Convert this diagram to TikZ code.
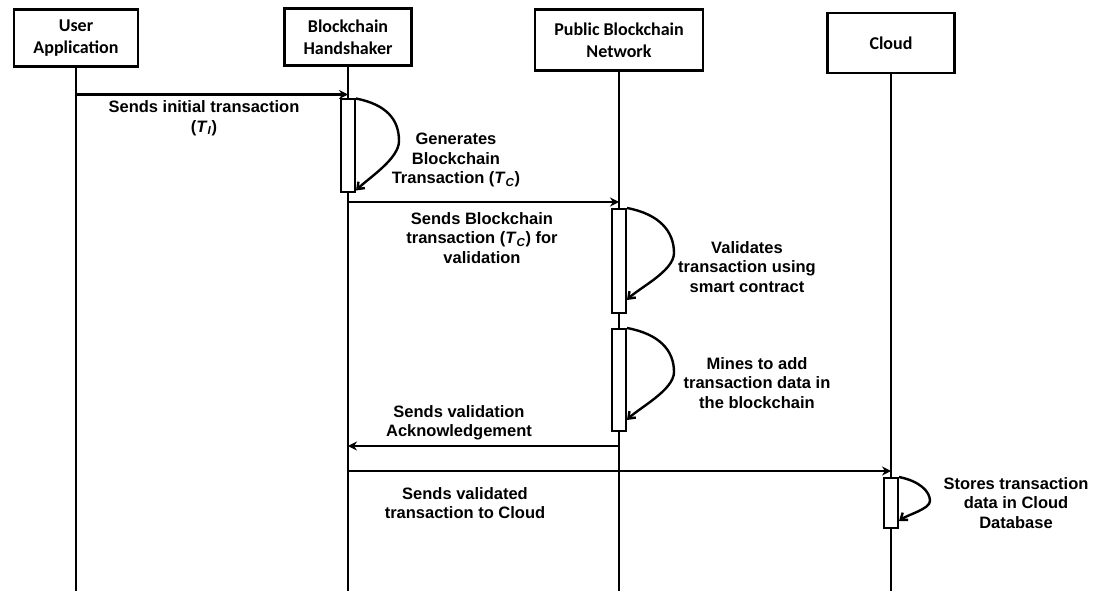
\documentclass[tikz,border=0pt]{standalone}
\usepackage{fontspec}
\setmainfont{Liberation Sans}
\newfontfamily\headfont{Carlito}
\usetikzlibrary{arrows.meta}

\tikzset{
  actor/.style={draw, line width=2.8pt, minimum height=57pt, align=center,
    font=\headfont\fontsize{18}{22}\selectfont\bfseries},
  life/.style={line width=2.4pt},
  actbar/.style={draw, line width=2pt, fill=white, minimum width=14pt, inner sep=0pt},
  msg/.style={line width=2.4pt, -{Stealth[length=9pt,width=9pt]}},
  selfmsg/.style={line width=2.4pt, -{Straight Barb[length=6pt,width=9pt]}},
  lbl/.style={align=center, inner sep=0pt,
    font=\fontsize{16.5}{19.5}\selectfont\bfseries},
}

\begin{document}
\begin{tikzpicture}[x=1pt,y=-1pt]
      \useasboundingbox (0,0) rectangle (1093,591);
      \node[actor, minimum width=124pt] (ua) at (76,38) {User\\Application};
      \node[actor, minimum width=127pt] (bh) at (348,37) {Blockchain\\Handshaker};
      \node[actor, minimum width=168pt, minimum height=61pt] (pbn) at (619,40) {Public Blockchain\\Network};
      \node[actor, minimum width=127pt, minimum height=60pt] (cl) at (891,43) {Cloud};
      \coordinate (bot) at (0,591);
      \draw[life] (ua.south) -- (ua.south |- bot);
      \draw[life] (bh.south) -- (bh.south |- bot);
      \draw[life] (pbn.south) -- (pbn.south |- bot);
      \draw[life] (cl.south) -- (cl.south |- bot);
      \node[actbar, minimum height=93pt] (hsbar) at (348,146) {};
      \node[actbar, minimum height=104pt] (pbbar1) at (619,261) {};
      \node[actbar, minimum height=102pt] (pbbar2) at (619,380) {};
      \node[actbar, minimum height=50pt] (clbar) at (891,503) {};
      \coordinate (m1) at ([yshift=4pt]hsbar.north);
      \coordinate (m2) at ([yshift=6pt]pbbar1.north);
      \coordinate (m3) at ([yshift=-14pt]pbbar2.south);
      \coordinate (m4) at ([yshift=6pt]clbar.north);
      \coordinate (hspk) at ([xshift=43pt,yshift=5pt]hsbar.east);
      \coordinate (pb1pk) at ([xshift=47pt,yshift=8pt]pbbar1.east);
      \coordinate (pb2pk) at ([xshift=47pt,yshift=8pt]pbbar2.east);
      \coordinate (clpk) at ([xshift=31pt,yshift=2pt]clbar.east);
      \begin{scope}
        \draw[msg] (ua.south |- m1) -- (m1);
        \draw[msg] (bh.south |- m2) -- (m2);
        \draw[msg] (m3) -- (bh.south |- m3);
        \draw[msg] (bh.south |- m4) -- (m4);
        \draw[selfmsg] (hsbar.north east) .. controls +(30,6) and +(0,-22) .. (hspk)
          .. controls +(0,18) and +(12,-12) .. ([yshift=3pt]hsbar.south east);
        \draw[selfmsg] (pbbar1.north east) .. controls +(32,6) and +(0,-22) .. (pb1pk)
          .. controls +(0,18) and +(12,-12) .. ([yshift=14pt]pbbar1.south east);
        \draw[selfmsg] (pbbar2.north east) .. controls +(32,6) and +(0,-22) .. (pb2pk)
          .. controls +(0,18) and +(12,-12) .. ([yshift=12pt]pbbar2.south east);
        \draw[selfmsg] (clbar.north east) .. controls +(20,4) and +(0,-10) .. (clpk)
          .. controls +(0,8) and +(8,-6) .. ([yshift=8pt]clbar.south east);
      \end{scope}
      \node[lbl] (m1l) at (204,118) {Sends initial transaction\\(\textit{T}\textsubscript{\textit{I}})};
      \node[lbl] (genl) at (456,160) {Generates\\Blockchain\\Transaction (\textit{T}\textsubscript{\textit{C}})};
      \node[lbl] (m2l) at (482,238) {Sends Blockchain\\transaction (\textit{T}\textsubscript{\textit{C}}) for\\validation};
      \node[lbl] (vall) at (747,267) {Validates\\transaction using\\smart contract};
      \node[lbl] (minl) at (757,383) {Mines to add\\transaction data in\\the blockchain};
      \node[lbl] (m3l) at (459,423) {Sends validation\\Acknowledgement};
      \node[lbl] (m4l) at (465,503) {Sends validated\\transaction to Cloud};
      \node[lbl] (stol) at (1016,503) {Stores transaction\\data in Cloud\\Database};
    \end{tikzpicture}
\end{document}
